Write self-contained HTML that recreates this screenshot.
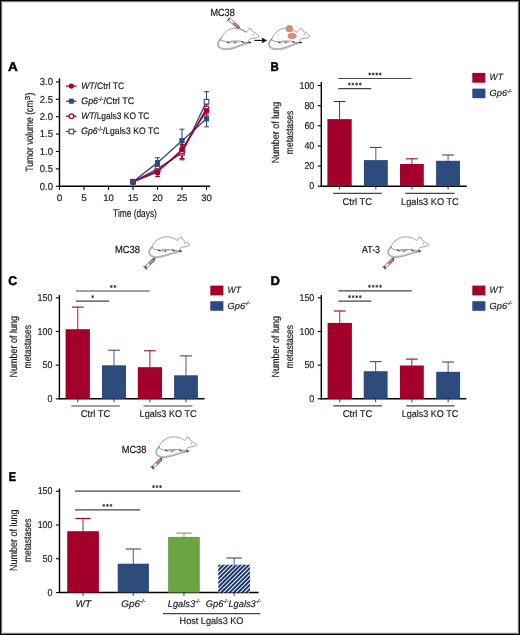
<!DOCTYPE html>
<html><head><meta charset="utf-8"><title>Figure</title>
<style>html,body{margin:0;padding:0;background:#fff;width:520px;height:635px;overflow:hidden}
svg{display:block;font-family:"Liberation Sans", sans-serif;will-change:transform;text-rendering:geometricPrecision}</style></head>
<body>
<svg width="520" height="635" viewBox="0 0 520 635" font-family='"Liberation Sans", sans-serif'>
<defs><pattern id="hatch" patternUnits="userSpaceOnUse" width="2.97" height="4" patternTransform="translate(218.3,564.7) rotate(45)"><rect width="2.97" height="4" fill="#fff"/><rect width="2.0" height="4" fill="#1B3470"/></pattern></defs>
<rect width="520" height="635" fill="#fff"/>
<text x="210.4" y="15.9" font-size="10.3" text-anchor="start" fill="#111" stroke="#111" stroke-width="0.18" textLength="24.4" lengthAdjust="spacingAndGlyphs" >MC38</text>
<g transform="translate(214,14)" fill="none" stroke-linecap="round" stroke-linejoin="round">
<path d="M6.4,25.5 C4.6,27 3.6,29.5 4.2,31.7 C5,33.8 8,35.2 12.6,35.2 C16,35.1 19.5,34.2 22.5,33 C26,31.7 30,30 33.9,29" stroke="#b4b4b4" stroke-width="2.0"/>
<path d="M6.4,25.5 C7.3,23.5 8.5,21.5 9.6,20.2 C11,18.4 13.5,16 17,14.7 C19.5,13.9 23,14.1 25.9,15.3 C28,16.1 30.5,17.2 32.3,18.3 C33.2,17.2 34,16 34.7,15.3 C35.2,14.6 35.8,14.3 36.3,14.5 C37,15 37.3,15.6 37.5,16.3 C38,16.9 38.3,17.2 38.6,17.4 C40.8,18.5 43.3,20.2 44.9,21.9 C44.5,22.7 44,23.1 43.3,23.4 C42,23.9 41,24.1 40,24.2 C38.5,24.4 37.3,24.7 36.5,25 C35.5,25.6 34.6,26.1 34.4,26.6 L36.1,28.6" stroke="#555" stroke-width="0.55" fill="#fff"/>
<path d="M6.8,26 C8,26.6 9.5,27.3 11.7,27.7 L14.4,28.4 C15.8,27.8 16.8,27.4 17.9,27.3 C20,27 22.5,26.8 24.5,27 L26.8,27.3 L28.5,28.1 L33,28.6 L36.1,28.6" stroke="#444" stroke-width="0.55"/>
<ellipse cx="20" cy="28.1" rx="3.6" ry="0.95" stroke="#888" stroke-width="0.5"/>
<path d="M13.4,27.8 L15.2,28.9 M27.7,27.6 L29.4,28.6 M34.8,28.2 L36.6,28.9 M20.7,28.6 L21.2,28.7" stroke="#111" stroke-width="1.0"/>
<circle cx="39.2" cy="20.6" r="0.5" fill="#444" stroke="none"/>
<path d="M24.0,13.0 L31.7,17.8" stroke="#555" stroke-width="0.5"/>
<path d="M15.6,5.6 L24.2,13.1" stroke="#333" stroke-width="3.0"/>
<path d="M18.9,8.4 L23.9,12.8" stroke="#DB8474" stroke-width="2.1"/>
<path d="M16.0,5.9 L18.7,8.2" stroke="#fff" stroke-width="2.1"/>
<path d="M13.2,7.0 L16.0,3.9" stroke="#222" stroke-width="0.9"/>
</g>
<line x1="254.4" y1="40.4" x2="262.5" y2="40.4" stroke="#000" stroke-width="1.1" />
<path d="M267.2,40.4 L261.5,37.6 L262.6,40.4 L261.5,43.2 Z" fill="#000"/>
<g transform="translate(265,14.0)" fill="none" stroke-linecap="round" stroke-linejoin="round">
<path d="M6.4,25.5 C4.6,27 3.6,29.5 4.2,31.7 C5,33.8 8,35.2 12.6,35.2 C16,35.1 19.5,34.2 22.5,33 C26,31.7 30,30 33.9,29" stroke="#b4b4b4" stroke-width="2.0"/>
<path d="M6.4,25.5 C7.3,23.5 8.5,21.5 9.6,20.2 C11,18.4 13.5,16 17,14.7 C19.5,13.9 23,14.1 25.9,15.3 C28,16.1 30.5,17.2 32.3,18.3 C33.2,17.2 34,16 34.7,15.3 C35.2,14.6 35.8,14.3 36.3,14.5 C37,15 37.3,15.6 37.5,16.3 C38,16.9 38.3,17.2 38.6,17.4 C40.8,18.5 43.3,20.2 44.9,21.9 C44.5,22.7 44,23.1 43.3,23.4 C42,23.9 41,24.1 40,24.2 C38.5,24.4 37.3,24.7 36.5,25 C35.5,25.6 34.6,26.1 34.4,26.6 L36.1,28.6" stroke="#555" stroke-width="0.55" fill="#fff"/>
<path d="M6.8,26 C8,26.6 9.5,27.3 11.7,27.7 L14.4,28.4 C15.8,27.8 16.8,27.4 17.9,27.3 C20,27 22.5,26.8 24.5,27 L26.8,27.3 L28.5,28.1 L33,28.6 L36.1,28.6" stroke="#444" stroke-width="0.55"/>
<ellipse cx="20" cy="28.1" rx="3.6" ry="0.95" stroke="#888" stroke-width="0.5"/>
<path d="M13.4,27.8 L15.2,28.9 M27.7,27.6 L29.4,28.6 M34.8,28.2 L36.6,28.9 M20.7,28.6 L21.2,28.7" stroke="#111" stroke-width="1.0"/>
<circle cx="39.2" cy="20.6" r="0.5" fill="#444" stroke="none"/>
<circle cx="24.4" cy="14.7" r="3.4" fill="#D58A7E" stroke="none"/>
<ellipse cx="27.1" cy="21.9" rx="4.4" ry="3.0" fill="#D58A7E" stroke="none"/>
<circle cx="24.4" cy="14.7" r="3.9" fill="#D58A7E" stroke="none" opacity="0.35"/>
<ellipse cx="27.1" cy="21.9" rx="4.9" ry="3.4" fill="#D58A7E" stroke="none" opacity="0.35"/>
</g>
<text x="8.1" y="71.3" font-size="12.6" text-anchor="start" fill="#000" stroke="#000" stroke-width="0.45" textLength="9.8" lengthAdjust="spacingAndGlyphs" font-weight="bold" >A</text>
<line x1="59.5" y1="78.3" x2="59.5" y2="187.0" stroke="#000" stroke-width="1.4" />
<line x1="58.8" y1="186.3" x2="210.2" y2="186.3" stroke="#000" stroke-width="1.4" />
<line x1="55.9" y1="186.3" x2="59.5" y2="186.3" stroke="#000" stroke-width="1.1" />
<text x="53.0" y="189.60000000000002" font-size="10.1" text-anchor="end" fill="#222" stroke="#222" stroke-width="0.18" textLength="13.2" lengthAdjust="spacingAndGlyphs" >0.0</text>
<line x1="55.9" y1="168.9" x2="59.5" y2="168.9" stroke="#000" stroke-width="1.1" />
<text x="53.0" y="172.20000000000002" font-size="10.1" text-anchor="end" fill="#222" stroke="#222" stroke-width="0.18" textLength="13.2" lengthAdjust="spacingAndGlyphs" >0.5</text>
<line x1="55.9" y1="151.5" x2="59.5" y2="151.5" stroke="#000" stroke-width="1.1" />
<text x="53.0" y="154.8" font-size="10.1" text-anchor="end" fill="#222" stroke="#222" stroke-width="0.18" textLength="13.2" lengthAdjust="spacingAndGlyphs" >1.0</text>
<line x1="55.9" y1="134.10000000000002" x2="59.5" y2="134.10000000000002" stroke="#000" stroke-width="1.1" />
<text x="53.0" y="137.40000000000003" font-size="10.1" text-anchor="end" fill="#222" stroke="#222" stroke-width="0.18" textLength="13.2" lengthAdjust="spacingAndGlyphs" >1.5</text>
<line x1="55.9" y1="116.70000000000002" x2="59.5" y2="116.70000000000002" stroke="#000" stroke-width="1.1" />
<text x="53.0" y="120.00000000000001" font-size="10.1" text-anchor="end" fill="#222" stroke="#222" stroke-width="0.18" textLength="13.2" lengthAdjust="spacingAndGlyphs" >2.0</text>
<line x1="55.9" y1="99.30000000000001" x2="59.5" y2="99.30000000000001" stroke="#000" stroke-width="1.1" />
<text x="53.0" y="102.60000000000001" font-size="10.1" text-anchor="end" fill="#222" stroke="#222" stroke-width="0.18" textLength="13.2" lengthAdjust="spacingAndGlyphs" >2.5</text>
<line x1="55.9" y1="81.90000000000002" x2="59.5" y2="81.90000000000002" stroke="#000" stroke-width="1.1" />
<text x="53.0" y="85.20000000000002" font-size="10.1" text-anchor="end" fill="#222" stroke="#222" stroke-width="0.18" textLength="13.2" lengthAdjust="spacingAndGlyphs" >3.0</text>
<line x1="59.5" y1="186.3" x2="59.5" y2="189.9" stroke="#000" stroke-width="1.1" />
<text x="59.5" y="201.4" font-size="9.4" text-anchor="middle" fill="#222" stroke="#222" stroke-width="0.18" textLength="5.6" lengthAdjust="spacingAndGlyphs" >0</text>
<line x1="84.0" y1="186.3" x2="84.0" y2="189.9" stroke="#000" stroke-width="1.1" />
<text x="84.0" y="201.4" font-size="9.4" text-anchor="middle" fill="#222" stroke="#222" stroke-width="0.18" textLength="5.6" lengthAdjust="spacingAndGlyphs" >5</text>
<line x1="108.5" y1="186.3" x2="108.5" y2="189.9" stroke="#000" stroke-width="1.1" />
<text x="108.5" y="201.4" font-size="9.4" text-anchor="middle" fill="#222" stroke="#222" stroke-width="0.18" textLength="10.6" lengthAdjust="spacingAndGlyphs" >10</text>
<line x1="133.0" y1="186.3" x2="133.0" y2="189.9" stroke="#000" stroke-width="1.1" />
<text x="133.0" y="201.4" font-size="9.4" text-anchor="middle" fill="#222" stroke="#222" stroke-width="0.18" textLength="10.6" lengthAdjust="spacingAndGlyphs" >15</text>
<line x1="157.5" y1="186.3" x2="157.5" y2="189.9" stroke="#000" stroke-width="1.1" />
<text x="157.5" y="201.4" font-size="9.4" text-anchor="middle" fill="#222" stroke="#222" stroke-width="0.18" textLength="10.6" lengthAdjust="spacingAndGlyphs" >20</text>
<line x1="182.0" y1="186.3" x2="182.0" y2="189.9" stroke="#000" stroke-width="1.1" />
<text x="182.0" y="201.4" font-size="9.4" text-anchor="middle" fill="#222" stroke="#222" stroke-width="0.18" textLength="10.6" lengthAdjust="spacingAndGlyphs" >25</text>
<line x1="206.5" y1="186.3" x2="206.5" y2="189.9" stroke="#000" stroke-width="1.1" />
<text x="206.5" y="201.4" font-size="9.4" text-anchor="middle" fill="#222" stroke="#222" stroke-width="0.18" textLength="10.6" lengthAdjust="spacingAndGlyphs" >30</text>
<g transform="translate(33.1,171.8) rotate(-90)" stroke="#222" stroke-width="0.18">
<text x="0" y="0" font-size="10.6" fill="#222" textLength="71.4" lengthAdjust="spacingAndGlyphs">Tumor volume (cm</text>
<text x="71.6" y="-3.6" font-size="7.2" fill="#222" textLength="4.4" lengthAdjust="spacingAndGlyphs">3</text>
<text x="76.0" y="0" font-size="10.6" fill="#222" textLength="3.4" lengthAdjust="spacingAndGlyphs">)</text>
</g>
<text x="135" y="216.5" font-size="11" text-anchor="middle" fill="#222" stroke="#222" stroke-width="0.18" textLength="43.8" lengthAdjust="spacingAndGlyphs" >Time (days)</text>
<line x1="133.0" y1="182.82000000000002" x2="133.0" y2="180.732" stroke="#2E4B7D" stroke-width="1.1" />
<line x1="130.6" y1="180.732" x2="135.4" y2="180.732" stroke="#2E4B7D" stroke-width="1.1" />
<line x1="130.6" y1="182.82000000000002" x2="135.4" y2="182.82000000000002" stroke="#2E4B7D" stroke-width="1.1" />
<line x1="157.5" y1="172.38000000000002" x2="157.5" y2="165.42000000000002" stroke="#2E4B7D" stroke-width="1.1" />
<line x1="155.1" y1="165.42000000000002" x2="159.9" y2="165.42000000000002" stroke="#2E4B7D" stroke-width="1.1" />
<line x1="155.1" y1="172.38000000000002" x2="159.9" y2="172.38000000000002" stroke="#2E4B7D" stroke-width="1.1" />
<line x1="182.0" y1="159.852" x2="182.0" y2="145.93200000000002" stroke="#2E4B7D" stroke-width="1.1" />
<line x1="179.6" y1="145.93200000000002" x2="184.4" y2="145.93200000000002" stroke="#2E4B7D" stroke-width="1.1" />
<line x1="179.6" y1="159.852" x2="184.4" y2="159.852" stroke="#2E4B7D" stroke-width="1.1" />
<line x1="206.5" y1="111.82800000000002" x2="206.5" y2="91.644" stroke="#2E4B7D" stroke-width="1.1" />
<line x1="204.1" y1="91.644" x2="208.9" y2="91.644" stroke="#2E4B7D" stroke-width="1.1" />
<line x1="204.1" y1="111.82800000000002" x2="208.9" y2="111.82800000000002" stroke="#2E4B7D" stroke-width="1.1" />
<line x1="133.0" y1="182.82000000000002" x2="133.0" y2="180.732" stroke="#A3002B" stroke-width="1.1" />
<line x1="130.6" y1="180.732" x2="135.4" y2="180.732" stroke="#A3002B" stroke-width="1.1" />
<line x1="130.6" y1="182.82000000000002" x2="135.4" y2="182.82000000000002" stroke="#A3002B" stroke-width="1.1" />
<line x1="157.5" y1="174.46800000000002" x2="157.5" y2="167.508" stroke="#A3002B" stroke-width="1.1" />
<line x1="155.1" y1="167.508" x2="159.9" y2="167.508" stroke="#A3002B" stroke-width="1.1" />
<line x1="155.1" y1="174.46800000000002" x2="159.9" y2="174.46800000000002" stroke="#A3002B" stroke-width="1.1" />
<line x1="182.0" y1="158.46" x2="182.0" y2="144.54000000000002" stroke="#A3002B" stroke-width="1.1" />
<line x1="179.6" y1="144.54000000000002" x2="184.4" y2="144.54000000000002" stroke="#A3002B" stroke-width="1.1" />
<line x1="179.6" y1="158.46" x2="184.4" y2="158.46" stroke="#A3002B" stroke-width="1.1" />
<line x1="206.5" y1="112.52400000000002" x2="206.5" y2="104.17200000000001" stroke="#A3002B" stroke-width="1.1" />
<line x1="204.1" y1="104.17200000000001" x2="208.9" y2="104.17200000000001" stroke="#A3002B" stroke-width="1.1" />
<line x1="204.1" y1="112.52400000000002" x2="208.9" y2="112.52400000000002" stroke="#A3002B" stroke-width="1.1" />
<line x1="133.0" y1="182.82000000000002" x2="133.0" y2="180.732" stroke="#2E4B7D" stroke-width="1.1" />
<line x1="130.6" y1="180.732" x2="135.4" y2="180.732" stroke="#2E4B7D" stroke-width="1.1" />
<line x1="130.6" y1="182.82000000000002" x2="135.4" y2="182.82000000000002" stroke="#2E4B7D" stroke-width="1.1" />
<line x1="157.5" y1="167.508" x2="157.5" y2="157.764" stroke="#2E4B7D" stroke-width="1.1" />
<line x1="155.1" y1="157.764" x2="159.9" y2="157.764" stroke="#2E4B7D" stroke-width="1.1" />
<line x1="155.1" y1="167.508" x2="159.9" y2="167.508" stroke="#2E4B7D" stroke-width="1.1" />
<line x1="182.0" y1="152.19600000000003" x2="182.0" y2="129.228" stroke="#2E4B7D" stroke-width="1.1" />
<line x1="179.6" y1="129.228" x2="184.4" y2="129.228" stroke="#2E4B7D" stroke-width="1.1" />
<line x1="179.6" y1="152.19600000000003" x2="184.4" y2="152.19600000000003" stroke="#2E4B7D" stroke-width="1.1" />
<line x1="206.5" y1="126.79200000000002" x2="206.5" y2="110.78400000000002" stroke="#2E4B7D" stroke-width="1.1" />
<line x1="204.1" y1="110.78400000000002" x2="208.9" y2="110.78400000000002" stroke="#2E4B7D" stroke-width="1.1" />
<line x1="204.1" y1="126.79200000000002" x2="208.9" y2="126.79200000000002" stroke="#2E4B7D" stroke-width="1.1" />
<line x1="133.0" y1="182.82000000000002" x2="133.0" y2="180.732" stroke="#A3002B" stroke-width="1.1" />
<line x1="130.6" y1="180.732" x2="135.4" y2="180.732" stroke="#A3002B" stroke-width="1.1" />
<line x1="130.6" y1="182.82000000000002" x2="135.4" y2="182.82000000000002" stroke="#A3002B" stroke-width="1.1" />
<line x1="157.5" y1="176.556" x2="157.5" y2="167.508" stroke="#A3002B" stroke-width="1.1" />
<line x1="155.1" y1="167.508" x2="159.9" y2="167.508" stroke="#A3002B" stroke-width="1.1" />
<line x1="155.1" y1="176.556" x2="159.9" y2="176.556" stroke="#A3002B" stroke-width="1.1" />
<line x1="182.0" y1="158.80800000000002" x2="182.0" y2="140.01600000000002" stroke="#A3002B" stroke-width="1.1" />
<line x1="179.6" y1="140.01600000000002" x2="184.4" y2="140.01600000000002" stroke="#A3002B" stroke-width="1.1" />
<line x1="179.6" y1="158.80800000000002" x2="184.4" y2="158.80800000000002" stroke="#A3002B" stroke-width="1.1" />
<line x1="206.5" y1="114.96000000000002" x2="206.5" y2="106.60800000000002" stroke="#A3002B" stroke-width="1.1" />
<line x1="204.1" y1="106.60800000000002" x2="208.9" y2="106.60800000000002" stroke="#A3002B" stroke-width="1.1" />
<line x1="204.1" y1="114.96000000000002" x2="208.9" y2="114.96000000000002" stroke="#A3002B" stroke-width="1.1" />
<polyline points="133.00,181.78 157.50,168.90 182.00,152.89 206.50,101.74" fill="none" stroke="#2E4B7D" stroke-width="1.35"/>
<polyline points="133.00,181.78 157.50,170.99 182.00,151.50 206.50,108.35" fill="none" stroke="#A3002B" stroke-width="1.35"/>
<polyline points="133.00,181.78 157.50,162.64 182.00,140.71 206.50,118.79" fill="none" stroke="#2E4B7D" stroke-width="1.35"/>
<polyline points="133.00,181.78 157.50,172.03 182.00,149.41 206.50,110.78" fill="none" stroke="#A3002B" stroke-width="1.35"/>
<rect x="130.70" y="179.48" width="4.6" height="4.6" fill="#fff" stroke="#2E4B7D" stroke-width="1.1"/>
<rect x="155.20" y="166.60" width="4.6" height="4.6" fill="#fff" stroke="#2E4B7D" stroke-width="1.1"/>
<rect x="179.70" y="150.59" width="4.6" height="4.6" fill="#fff" stroke="#2E4B7D" stroke-width="1.1"/>
<rect x="204.20" y="99.44" width="4.6" height="4.6" fill="#fff" stroke="#2E4B7D" stroke-width="1.1"/>
<circle cx="133.00" cy="181.78" r="2.4" fill="#fff" stroke="#A3002B" stroke-width="1.1"/>
<circle cx="157.50" cy="170.99" r="2.4" fill="#fff" stroke="#A3002B" stroke-width="1.1"/>
<circle cx="182.00" cy="151.50" r="2.4" fill="#fff" stroke="#A3002B" stroke-width="1.1"/>
<circle cx="206.50" cy="108.35" r="2.4" fill="#fff" stroke="#A3002B" stroke-width="1.1"/>
<circle cx="133.00" cy="181.78" r="2.8" fill="#A3002B"/>
<circle cx="157.50" cy="172.03" r="2.8" fill="#A3002B"/>
<circle cx="182.00" cy="149.41" r="2.8" fill="#A3002B"/>
<circle cx="206.50" cy="110.78" r="2.8" fill="#A3002B"/>
<rect x="130.40" y="179.18" width="5.2" height="5.2" fill="#2E4B7D"/>
<rect x="154.90" y="160.04" width="5.2" height="5.2" fill="#2E4B7D"/>
<rect x="179.40" y="138.11" width="5.2" height="5.2" fill="#2E4B7D"/>
<rect x="203.90" y="116.19" width="5.2" height="5.2" fill="#2E4B7D"/>
<line x1="66" y1="86.1" x2="76.5" y2="86.1" stroke="#A3002B" stroke-width="1.3" />
<circle cx="71.4" cy="86.1" r="2.6" fill="#A3002B"/>
<line x1="66" y1="101.2" x2="76.5" y2="101.2" stroke="#2E4B7D" stroke-width="1.3" />
<rect x="68.9" y="98.7" width="5" height="5" fill="#2E4B7D"/>
<line x1="66" y1="116.2" x2="76.5" y2="116.2" stroke="#A3002B" stroke-width="1.3" />
<circle cx="71.4" cy="116.2" r="2.3" fill="#fff" stroke="#A3002B" stroke-width="1.1"/>
<line x1="66" y1="131.5" x2="76.5" y2="131.5" stroke="#2E4B7D" stroke-width="1.3" />
<rect x="69.10000000000001" y="129.2" width="4.6" height="4.6" fill="#fff" stroke="#2E4B7D" stroke-width="1.1"/>
<text x="81.2" y="88.8" font-size="9.4" text-anchor="start" fill="#1a1a1a" stroke="#1a1a1a" stroke-width="0.18" textLength="43" lengthAdjust="spacingAndGlyphs" ><tspan font-style="italic">WT</tspan>/Ctrl TC</text>
<text x="81.2" y="103.9" font-size="9.4" text-anchor="start" fill="#1a1a1a" stroke="#1a1a1a" stroke-width="0.18" textLength="52.9" lengthAdjust="spacingAndGlyphs" ><tspan font-style="italic">Gp6</tspan><tspan font-size="6" dy="-3.3">-/-</tspan><tspan dy="3.3">/Ctrl TC</tspan></text>
<text x="81.2" y="118.9" font-size="9.4" text-anchor="start" fill="#1a1a1a" stroke="#1a1a1a" stroke-width="0.18" textLength="68.2" lengthAdjust="spacingAndGlyphs" ><tspan font-style="italic">WT</tspan>/Lgals3 KO TC</text>
<text x="81.2" y="134.2" font-size="9.4" text-anchor="start" fill="#1a1a1a" stroke="#1a1a1a" stroke-width="0.18" textLength="78.3" lengthAdjust="spacingAndGlyphs" ><tspan font-style="italic">Gp6</tspan><tspan font-size="6" dy="-3.3">-/-</tspan><tspan dy="3.3">/Lgals3 KO TC</tspan></text>
<text x="270.6" y="71.3" font-size="12.6" text-anchor="start" fill="#000" stroke="#000" stroke-width="0.45" textLength="8.3" lengthAdjust="spacingAndGlyphs" font-weight="bold" >B</text>
<line x1="321.3" y1="82.0" x2="321.3" y2="186.79999999999998" stroke="#000" stroke-width="1.4" />
<line x1="320.6" y1="186.2" x2="466.8" y2="186.2" stroke="#000" stroke-width="1.4" />
<line x1="317.7" y1="186.2" x2="321.3" y2="186.2" stroke="#000" stroke-width="1.1" />
<text x="314.3" y="189.39999999999998" font-size="9.9" text-anchor="end" fill="#222" stroke="#222" stroke-width="0.18" textLength="4.95" lengthAdjust="spacingAndGlyphs" >0</text>
<line x1="317.7" y1="166.07999999999998" x2="321.3" y2="166.07999999999998" stroke="#000" stroke-width="1.1" />
<text x="314.3" y="169.27999999999997" font-size="9.9" text-anchor="end" fill="#222" stroke="#222" stroke-width="0.18" textLength="9.9" lengthAdjust="spacingAndGlyphs" >20</text>
<line x1="317.7" y1="145.95999999999998" x2="321.3" y2="145.95999999999998" stroke="#000" stroke-width="1.1" />
<text x="314.3" y="149.15999999999997" font-size="9.9" text-anchor="end" fill="#222" stroke="#222" stroke-width="0.18" textLength="9.9" lengthAdjust="spacingAndGlyphs" >40</text>
<line x1="317.7" y1="125.83999999999999" x2="321.3" y2="125.83999999999999" stroke="#000" stroke-width="1.1" />
<text x="314.3" y="129.04" font-size="9.9" text-anchor="end" fill="#222" stroke="#222" stroke-width="0.18" textLength="9.9" lengthAdjust="spacingAndGlyphs" >60</text>
<line x1="317.7" y1="105.71999999999998" x2="321.3" y2="105.71999999999998" stroke="#000" stroke-width="1.1" />
<text x="314.3" y="108.91999999999999" font-size="9.9" text-anchor="end" fill="#222" stroke="#222" stroke-width="0.18" textLength="9.9" lengthAdjust="spacingAndGlyphs" >80</text>
<line x1="317.7" y1="85.6" x2="321.3" y2="85.6" stroke="#000" stroke-width="1.1" />
<text x="314.3" y="88.8" font-size="9.9" text-anchor="end" fill="#222" stroke="#222" stroke-width="0.18" textLength="14.850000000000001" lengthAdjust="spacingAndGlyphs" >100</text>
<line x1="339.54999999999995" y1="101.5" x2="339.54999999999995" y2="119.6" stroke="#A3002B" stroke-width="0.9" />
<line x1="333.65" y1="101.5" x2="345.44999999999993" y2="101.5" stroke="#A3002B" stroke-width="1.1" />
<rect x="327.40" y="119.10" width="24.30" height="67.10" fill="#A3002B"/>
<line x1="339.54999999999995" y1="186.2" x2="339.54999999999995" y2="189.6" stroke="#222" stroke-width="0.9" />
<line x1="375.85" y1="147.4" x2="375.85" y2="160.6" stroke="#2E4B7D" stroke-width="0.9" />
<line x1="369.95000000000005" y1="147.4" x2="381.75" y2="147.4" stroke="#2E4B7D" stroke-width="1.1" />
<rect x="363.90" y="160.10" width="23.90" height="26.10" fill="#2E4B7D"/>
<line x1="375.85" y1="186.2" x2="375.85" y2="189.6" stroke="#222" stroke-width="0.9" />
<line x1="411.9" y1="158.8" x2="411.9" y2="164.5" stroke="#A3002B" stroke-width="0.9" />
<line x1="406.0" y1="158.8" x2="417.79999999999995" y2="158.8" stroke="#A3002B" stroke-width="1.1" />
<rect x="400.00" y="164.00" width="23.80" height="22.20" fill="#A3002B"/>
<line x1="411.9" y1="186.2" x2="411.9" y2="189.6" stroke="#222" stroke-width="0.9" />
<line x1="448.05" y1="155.0" x2="448.05" y2="161.3" stroke="#2E4B7D" stroke-width="0.9" />
<line x1="442.15000000000003" y1="155.0" x2="453.95" y2="155.0" stroke="#2E4B7D" stroke-width="1.1" />
<rect x="436.10" y="160.80" width="23.90" height="25.40" fill="#2E4B7D"/>
<line x1="448.05" y1="186.2" x2="448.05" y2="189.6" stroke="#222" stroke-width="0.9" />
<line x1="333.1" y1="193.3" x2="381.8" y2="193.3" stroke="#444" stroke-width="1.2" />
<line x1="405.4" y1="193.3" x2="454.6" y2="193.3" stroke="#444" stroke-width="1.2" />
<line x1="338.3" y1="78.5" x2="411.7" y2="78.5" stroke="#444" stroke-width="1.2" />
<path d="M369.70,72.55L369.70,75.45M370.96,73.28L368.44,74.72M370.96,74.72L368.44,73.28" stroke="#2a2a2a" stroke-width="0.85" fill="none"/>
<path d="M373.20,72.55L373.20,75.45M374.46,73.28L371.94,74.72M374.46,74.72L371.94,73.28" stroke="#2a2a2a" stroke-width="0.85" fill="none"/>
<path d="M376.70,72.55L376.70,75.45M377.96,73.28L375.44,74.72M377.96,74.72L375.44,73.28" stroke="#2a2a2a" stroke-width="0.85" fill="none"/>
<path d="M380.20,72.55L380.20,75.45M381.46,73.28L378.94,74.72M381.46,74.72L378.94,73.28" stroke="#2a2a2a" stroke-width="0.85" fill="none"/>
<line x1="338.3" y1="88.6" x2="371.2" y2="88.6" stroke="#444" stroke-width="1.2" />
<path d="M349.30,82.65L349.30,85.55M350.56,83.38L348.04,84.82M350.56,84.82L348.04,83.38" stroke="#2a2a2a" stroke-width="0.85" fill="none"/>
<path d="M352.97,82.65L352.97,85.55M354.22,83.38L351.71,84.82M354.22,84.82L351.71,83.38" stroke="#2a2a2a" stroke-width="0.85" fill="none"/>
<path d="M356.63,82.65L356.63,85.55M357.89,83.38L355.38,84.82M357.89,84.82L355.38,83.38" stroke="#2a2a2a" stroke-width="0.85" fill="none"/>
<path d="M360.30,82.65L360.30,85.55M361.56,83.38L359.04,84.82M361.56,84.82L359.04,83.38" stroke="#2a2a2a" stroke-width="0.85" fill="none"/>
<text x="279.3" y="132.4" font-size="10.4" text-anchor="middle" fill="#222" stroke="#222" stroke-width="0.18" textLength="61.5" lengthAdjust="spacingAndGlyphs" transform="rotate(-90 279.3 132.4)" >Number of lung</text>
<text x="292.90000000000003" y="132.4" font-size="10.4" text-anchor="middle" fill="#222" stroke="#222" stroke-width="0.18" textLength="43.5" lengthAdjust="spacingAndGlyphs" transform="rotate(-90 292.90000000000003 132.4)" >metastases</text>
<text x="357.3" y="205.0" font-size="9.8" text-anchor="middle" fill="#222" stroke="#222" stroke-width="0.18" textLength="29.6" lengthAdjust="spacingAndGlyphs" >Ctrl TC</text>
<text x="429.9" y="205.0" font-size="9.8" text-anchor="middle" fill="#222" stroke="#222" stroke-width="0.18" textLength="57.6" lengthAdjust="spacingAndGlyphs" >Lgals3 KO TC</text>
<rect x="472.3" y="72.9" width="13.1" height="9.8" fill="#A3002B"/>
<rect x="472.3" y="88.6" width="13.1" height="9.6" fill="#2E4B7D"/>
<text x="489.6" y="80.30000000000001" font-size="9.0" text-anchor="start" fill="#222" stroke="#222" stroke-width="0.18" textLength="13.3" lengthAdjust="spacingAndGlyphs" font-style="italic" >WT</text>
<text x="489.6" y="96.1" font-size="9.0" text-anchor="start" fill="#222" stroke="#222" stroke-width="0.18" textLength="22.6" lengthAdjust="spacingAndGlyphs" font-style="italic" >Gp6<tspan font-size="5.3" dy="-3.4">-/-</tspan></text>
<text x="114.9" y="252.5" font-size="10.3" text-anchor="start" fill="#111" stroke="#111" stroke-width="0.18" textLength="25.2" lengthAdjust="spacingAndGlyphs" >MC38</text>
<g transform="translate(141,230)" fill="none" stroke-linecap="round" stroke-linejoin="round">
<path d="M10.9,17.3 C8.6,19 7.6,22 8.6,24 C10,26.4 13,27.3 16,27.2 C20,27 25,25.3 30,23.9 C33.5,22.9 37,22 39.8,21.3" stroke="#b4b4b4" stroke-width="2.0"/>
<path d="M10.9,17.3 C11.8,14.5 13,12.5 15,10.8 C17,9.2 20.5,7.3 24,6.9 C27.5,6.6 31,7.3 33.5,8.6 C34.8,9.3 35.8,10 36.4,10.6 C37.2,9.4 38,8.2 38.7,7.9 C39.3,7.2 40.2,7.1 40.7,7.5 C41.3,8 41.6,8.6 41.8,9.2 C42.5,10 43,10.6 43.4,11.2 C45.5,12.2 47.5,13.3 48.9,14.6 C48.4,15.4 47.8,15.8 46.8,16.1 C45,16.6 43,16.9 41,17.3 C39.8,17.8 38.8,18.6 38.7,19.2 L40.1,21" stroke="#555" stroke-width="0.55" fill="#fff"/>
<path d="M11.3,17.7 C12.3,18.6 13.2,19.3 14.2,19.6 L18.4,20.4 C20,20.1 21,19.9 22,19.8 C25,19.5 28,19.4 30.8,19.8 L36,20.8 L39.6,21" stroke="#444" stroke-width="0.55"/>
<ellipse cx="23.7" cy="20.6" rx="3.6" ry="0.9" stroke="#888" stroke-width="0.5"/>
<path d="M17.4,19.8 L19.2,20.9 M31.6,19.9 L33.3,20.9 M38.6,20.6 L40.2,21.3 M24.1,21 L24.6,21.1" stroke="#111" stroke-width="1.0"/>
<circle cx="43.6" cy="13.3" r="0.5" fill="#444" stroke="none"/>
<path d="M39.6,8.6 C40.2,8.4 40.8,8.8 40.9,9.4" stroke="#999" stroke-width="0.4"/>
<path d="M14.4,27.3 L12.9,29.3" stroke="#555" stroke-width="0.5"/>
<path d="M12.7,29.6 L5.4,36.8" stroke="#333" stroke-width="3.0"/>
<path d="M12.3,30.0 L8.0,34.3" stroke="#DB8474" stroke-width="2.1"/>
<path d="M7.8,34.5 L5.8,36.4" stroke="#fff" stroke-width="2.1"/>
<path d="M2.8,36.2 L5.6,39.3" stroke="#222" stroke-width="0.9"/>
<path d="M4.2,37.8 L5.4,36.7" stroke="#333" stroke-width="0.6"/>
</g>
<text x="8.2" y="285.3" font-size="12.6" text-anchor="start" fill="#000" stroke="#000" stroke-width="0.45" textLength="8.9" lengthAdjust="spacingAndGlyphs" font-weight="bold" >C</text>
<line x1="59.4" y1="295.0" x2="59.4" y2="399.40000000000003" stroke="#000" stroke-width="1.4" />
<line x1="58.699999999999996" y1="398.8" x2="204.6" y2="398.8" stroke="#000" stroke-width="1.4" />
<line x1="55.8" y1="398.8" x2="59.4" y2="398.8" stroke="#000" stroke-width="1.1" />
<text x="52.4" y="402.0" font-size="9.9" text-anchor="end" fill="#222" stroke="#222" stroke-width="0.18" textLength="4.95" lengthAdjust="spacingAndGlyphs" >0</text>
<line x1="55.8" y1="365.135" x2="59.4" y2="365.135" stroke="#000" stroke-width="1.1" />
<text x="52.4" y="368.335" font-size="9.9" text-anchor="end" fill="#222" stroke="#222" stroke-width="0.18" textLength="9.9" lengthAdjust="spacingAndGlyphs" >50</text>
<line x1="55.8" y1="331.47" x2="59.4" y2="331.47" stroke="#000" stroke-width="1.1" />
<text x="52.4" y="334.67" font-size="9.9" text-anchor="end" fill="#222" stroke="#222" stroke-width="0.18" textLength="14.850000000000001" lengthAdjust="spacingAndGlyphs" >100</text>
<line x1="55.8" y1="297.805" x2="59.4" y2="297.805" stroke="#000" stroke-width="1.1" />
<text x="52.4" y="301.005" font-size="9.9" text-anchor="end" fill="#222" stroke="#222" stroke-width="0.18" textLength="14.850000000000001" lengthAdjust="spacingAndGlyphs" >150</text>
<line x1="77.75" y1="307.1" x2="77.75" y2="329.7" stroke="#A3002B" stroke-width="0.9" />
<line x1="71.85" y1="307.1" x2="83.65" y2="307.1" stroke="#A3002B" stroke-width="1.1" />
<rect x="65.60" y="329.20" width="24.30" height="69.60" fill="#A3002B"/>
<line x1="77.75" y1="398.8" x2="77.75" y2="402.2" stroke="#222" stroke-width="0.9" />
<line x1="114.0" y1="350.2" x2="114.0" y2="365.8" stroke="#2E4B7D" stroke-width="0.9" />
<line x1="108.1" y1="350.2" x2="119.9" y2="350.2" stroke="#2E4B7D" stroke-width="1.1" />
<rect x="102.00" y="365.30" width="24.00" height="33.50" fill="#2E4B7D"/>
<line x1="114.0" y1="398.8" x2="114.0" y2="402.2" stroke="#222" stroke-width="0.9" />
<line x1="149.9" y1="350.8" x2="149.9" y2="367.7" stroke="#A3002B" stroke-width="0.9" />
<line x1="144.0" y1="350.8" x2="155.8" y2="350.8" stroke="#A3002B" stroke-width="1.1" />
<rect x="137.80" y="367.20" width="24.20" height="31.60" fill="#A3002B"/>
<line x1="149.9" y1="398.8" x2="149.9" y2="402.2" stroke="#222" stroke-width="0.9" />
<line x1="186.0" y1="355.9" x2="186.0" y2="375.8" stroke="#2E4B7D" stroke-width="0.9" />
<line x1="180.1" y1="355.9" x2="191.9" y2="355.9" stroke="#2E4B7D" stroke-width="1.1" />
<rect x="174.10" y="375.30" width="23.80" height="23.50" fill="#2E4B7D"/>
<line x1="186.0" y1="398.8" x2="186.0" y2="402.2" stroke="#222" stroke-width="0.9" />
<line x1="71.3" y1="406.0" x2="119.8" y2="406.0" stroke="#444" stroke-width="1.2" />
<line x1="143.4" y1="406.0" x2="192.5" y2="406.0" stroke="#444" stroke-width="1.2" />
<line x1="76" y1="291.0" x2="149.8" y2="291.0" stroke="#444" stroke-width="1.2" />
<path d="M111.30,285.05L111.30,287.95M112.56,285.77L110.04,287.23M112.56,287.23L110.04,285.77" stroke="#2a2a2a" stroke-width="0.85" fill="none"/>
<path d="M114.90,285.05L114.90,287.95M116.16,285.77L113.64,287.23M116.16,287.23L113.64,285.77" stroke="#2a2a2a" stroke-width="0.85" fill="none"/>
<line x1="76" y1="301.2" x2="109.2" y2="301.2" stroke="#444" stroke-width="1.2" />
<path d="M92.70,295.25L92.70,298.15M93.96,295.97L91.44,297.43M93.96,297.43L91.44,295.97" stroke="#2a2a2a" stroke-width="0.85" fill="none"/>
<text x="17.3" y="346.7" font-size="10.4" text-anchor="middle" fill="#222" stroke="#222" stroke-width="0.18" textLength="61.5" lengthAdjust="spacingAndGlyphs" transform="rotate(-90 17.3 346.7)" >Number of lung</text>
<text x="30.9" y="346.7" font-size="10.4" text-anchor="middle" fill="#222" stroke="#222" stroke-width="0.18" textLength="43.5" lengthAdjust="spacingAndGlyphs" transform="rotate(-90 30.9 346.7)" >metastases</text>
<text x="95.6" y="417.0" font-size="9.8" text-anchor="middle" fill="#222" stroke="#222" stroke-width="0.18" textLength="29.6" lengthAdjust="spacingAndGlyphs" >Ctrl TC</text>
<text x="168.1" y="417.0" font-size="9.8" text-anchor="middle" fill="#222" stroke="#222" stroke-width="0.18" textLength="57.0" lengthAdjust="spacingAndGlyphs" >Lgals3 KO TC</text>
<rect x="210.3" y="285.6" width="13.1" height="9.8" fill="#A3002B"/>
<rect x="210.3" y="301.2" width="13.1" height="9.6" fill="#2E4B7D"/>
<text x="227.60000000000002" y="293.0" font-size="9.0" text-anchor="start" fill="#222" stroke="#222" stroke-width="0.18" textLength="13.3" lengthAdjust="spacingAndGlyphs" font-style="italic" >WT</text>
<text x="227.60000000000002" y="308.7" font-size="9.0" text-anchor="start" fill="#222" stroke="#222" stroke-width="0.18" textLength="22.6" lengthAdjust="spacingAndGlyphs" font-style="italic" >Gp6<tspan font-size="5.3" dy="-3.4">-/-</tspan></text>
<text x="362.0" y="252.5" font-size="10.2" text-anchor="start" fill="#111" stroke="#111" stroke-width="0.18" textLength="18.0" lengthAdjust="spacingAndGlyphs" >AT-3</text>
<g transform="translate(380,230)" fill="none" stroke-linecap="round" stroke-linejoin="round">
<path d="M10.9,17.3 C8.6,19 7.6,22 8.6,24 C10,26.4 13,27.3 16,27.2 C20,27 25,25.3 30,23.9 C33.5,22.9 37,22 39.8,21.3" stroke="#b4b4b4" stroke-width="2.0"/>
<path d="M10.9,17.3 C11.8,14.5 13,12.5 15,10.8 C17,9.2 20.5,7.3 24,6.9 C27.5,6.6 31,7.3 33.5,8.6 C34.8,9.3 35.8,10 36.4,10.6 C37.2,9.4 38,8.2 38.7,7.9 C39.3,7.2 40.2,7.1 40.7,7.5 C41.3,8 41.6,8.6 41.8,9.2 C42.5,10 43,10.6 43.4,11.2 C45.5,12.2 47.5,13.3 48.9,14.6 C48.4,15.4 47.8,15.8 46.8,16.1 C45,16.6 43,16.9 41,17.3 C39.8,17.8 38.8,18.6 38.7,19.2 L40.1,21" stroke="#555" stroke-width="0.55" fill="#fff"/>
<path d="M11.3,17.7 C12.3,18.6 13.2,19.3 14.2,19.6 L18.4,20.4 C20,20.1 21,19.9 22,19.8 C25,19.5 28,19.4 30.8,19.8 L36,20.8 L39.6,21" stroke="#444" stroke-width="0.55"/>
<ellipse cx="23.7" cy="20.6" rx="3.6" ry="0.9" stroke="#888" stroke-width="0.5"/>
<path d="M17.4,19.8 L19.2,20.9 M31.6,19.9 L33.3,20.9 M38.6,20.6 L40.2,21.3 M24.1,21 L24.6,21.1" stroke="#111" stroke-width="1.0"/>
<circle cx="43.6" cy="13.3" r="0.5" fill="#444" stroke="none"/>
<path d="M39.6,8.6 C40.2,8.4 40.8,8.8 40.9,9.4" stroke="#999" stroke-width="0.4"/>
<path d="M14.4,27.3 L12.9,29.3" stroke="#555" stroke-width="0.5"/>
<path d="M12.7,29.6 L5.4,36.8" stroke="#333" stroke-width="3.0"/>
<path d="M12.3,30.0 L8.0,34.3" stroke="#DB8474" stroke-width="2.1"/>
<path d="M7.8,34.5 L5.8,36.4" stroke="#fff" stroke-width="2.1"/>
<path d="M2.8,36.2 L5.6,39.3" stroke="#222" stroke-width="0.9"/>
<path d="M4.2,37.8 L5.4,36.7" stroke="#333" stroke-width="0.6"/>
</g>
<text x="270.4" y="285.3" font-size="12.6" text-anchor="start" fill="#000" stroke="#000" stroke-width="0.45" textLength="9.4" lengthAdjust="spacingAndGlyphs" font-weight="bold" >D</text>
<line x1="321.3" y1="295.0" x2="321.3" y2="399.40000000000003" stroke="#000" stroke-width="1.4" />
<line x1="320.6" y1="398.8" x2="466.3" y2="398.8" stroke="#000" stroke-width="1.4" />
<line x1="317.7" y1="398.8" x2="321.3" y2="398.8" stroke="#000" stroke-width="1.1" />
<text x="314.3" y="402.0" font-size="9.9" text-anchor="end" fill="#222" stroke="#222" stroke-width="0.18" textLength="4.95" lengthAdjust="spacingAndGlyphs" >0</text>
<line x1="317.7" y1="365.135" x2="321.3" y2="365.135" stroke="#000" stroke-width="1.1" />
<text x="314.3" y="368.335" font-size="9.9" text-anchor="end" fill="#222" stroke="#222" stroke-width="0.18" textLength="9.9" lengthAdjust="spacingAndGlyphs" >50</text>
<line x1="317.7" y1="331.47" x2="321.3" y2="331.47" stroke="#000" stroke-width="1.1" />
<text x="314.3" y="334.67" font-size="9.9" text-anchor="end" fill="#222" stroke="#222" stroke-width="0.18" textLength="14.850000000000001" lengthAdjust="spacingAndGlyphs" >100</text>
<line x1="317.7" y1="297.805" x2="321.3" y2="297.805" stroke="#000" stroke-width="1.1" />
<text x="314.3" y="301.005" font-size="9.9" text-anchor="end" fill="#222" stroke="#222" stroke-width="0.18" textLength="14.850000000000001" lengthAdjust="spacingAndGlyphs" >150</text>
<line x1="339.75" y1="311.0" x2="339.75" y2="323.4" stroke="#A3002B" stroke-width="0.9" />
<line x1="333.85" y1="311.0" x2="345.65" y2="311.0" stroke="#A3002B" stroke-width="1.1" />
<rect x="327.60" y="322.90" width="24.30" height="75.90" fill="#A3002B"/>
<line x1="339.75" y1="398.8" x2="339.75" y2="402.2" stroke="#222" stroke-width="0.9" />
<line x1="375.65" y1="361.6" x2="375.65" y2="371.7" stroke="#2E4B7D" stroke-width="0.9" />
<line x1="369.75" y1="361.6" x2="381.54999999999995" y2="361.6" stroke="#2E4B7D" stroke-width="1.1" />
<rect x="363.70" y="371.20" width="23.90" height="27.60" fill="#2E4B7D"/>
<line x1="375.65" y1="398.8" x2="375.65" y2="402.2" stroke="#222" stroke-width="0.9" />
<line x1="411.85" y1="359.1" x2="411.85" y2="366.0" stroke="#A3002B" stroke-width="0.9" />
<line x1="405.95000000000005" y1="359.1" x2="417.75" y2="359.1" stroke="#A3002B" stroke-width="1.1" />
<rect x="399.90" y="365.50" width="23.90" height="33.30" fill="#A3002B"/>
<line x1="411.85" y1="398.8" x2="411.85" y2="402.2" stroke="#222" stroke-width="0.9" />
<line x1="448.15" y1="362.0" x2="448.15" y2="372.3" stroke="#2E4B7D" stroke-width="0.9" />
<line x1="442.25" y1="362.0" x2="454.04999999999995" y2="362.0" stroke="#2E4B7D" stroke-width="1.1" />
<rect x="436.20" y="371.80" width="23.90" height="27.00" fill="#2E4B7D"/>
<line x1="448.15" y1="398.8" x2="448.15" y2="402.2" stroke="#222" stroke-width="0.9" />
<line x1="333.2" y1="405.8" x2="382.0" y2="405.8" stroke="#444" stroke-width="1.2" />
<line x1="406.2" y1="405.8" x2="454.4" y2="405.8" stroke="#444" stroke-width="1.2" />
<line x1="338.3" y1="290.8" x2="411.8" y2="290.8" stroke="#444" stroke-width="1.2" />
<path d="M369.50,284.85L369.50,287.75M370.76,285.57L368.24,287.03M370.76,287.03L368.24,285.57" stroke="#2a2a2a" stroke-width="0.85" fill="none"/>
<path d="M373.17,284.85L373.17,287.75M374.42,285.57L371.91,287.03M374.42,287.03L371.91,285.57" stroke="#2a2a2a" stroke-width="0.85" fill="none"/>
<path d="M376.83,284.85L376.83,287.75M378.09,285.57L375.58,287.03M378.09,287.03L375.58,285.57" stroke="#2a2a2a" stroke-width="0.85" fill="none"/>
<path d="M380.50,284.85L380.50,287.75M381.76,285.57L379.24,287.03M381.76,287.03L379.24,285.57" stroke="#2a2a2a" stroke-width="0.85" fill="none"/>
<line x1="338.3" y1="301.2" x2="371.2" y2="301.2" stroke="#444" stroke-width="1.2" />
<path d="M349.50,295.25L349.50,298.15M350.76,295.97L348.24,297.43M350.76,297.43L348.24,295.97" stroke="#2a2a2a" stroke-width="0.85" fill="none"/>
<path d="M353.10,295.25L353.10,298.15M354.36,295.97L351.84,297.43M354.36,297.43L351.84,295.97" stroke="#2a2a2a" stroke-width="0.85" fill="none"/>
<path d="M356.70,295.25L356.70,298.15M357.96,295.97L355.44,297.43M357.96,297.43L355.44,295.97" stroke="#2a2a2a" stroke-width="0.85" fill="none"/>
<path d="M360.30,295.25L360.30,298.15M361.56,295.97L359.04,297.43M361.56,297.43L359.04,295.97" stroke="#2a2a2a" stroke-width="0.85" fill="none"/>
<text x="279.4" y="346.7" font-size="10.4" text-anchor="middle" fill="#222" stroke="#222" stroke-width="0.18" textLength="61.5" lengthAdjust="spacingAndGlyphs" transform="rotate(-90 279.4 346.7)" >Number of lung</text>
<text x="293.0" y="346.7" font-size="10.4" text-anchor="middle" fill="#222" stroke="#222" stroke-width="0.18" textLength="43.5" lengthAdjust="spacingAndGlyphs" transform="rotate(-90 293.0 346.7)" >metastases</text>
<text x="357.6" y="417.0" font-size="9.8" text-anchor="middle" fill="#222" stroke="#222" stroke-width="0.18" textLength="29.6" lengthAdjust="spacingAndGlyphs" >Ctrl TC</text>
<text x="430.0" y="417.0" font-size="9.8" text-anchor="middle" fill="#222" stroke="#222" stroke-width="0.18" textLength="56.4" lengthAdjust="spacingAndGlyphs" >Lgals3 KO TC</text>
<rect x="472.3" y="285.6" width="13.1" height="9.8" fill="#A3002B"/>
<rect x="472.3" y="301.2" width="13.1" height="9.6" fill="#2E4B7D"/>
<text x="489.6" y="293.0" font-size="9.0" text-anchor="start" fill="#222" stroke="#222" stroke-width="0.18" textLength="13.3" lengthAdjust="spacingAndGlyphs" font-style="italic" >WT</text>
<text x="489.6" y="308.7" font-size="9.0" text-anchor="start" fill="#222" stroke="#222" stroke-width="0.18" textLength="22.6" lengthAdjust="spacingAndGlyphs" font-style="italic" >Gp6<tspan font-size="5.3" dy="-3.4">-/-</tspan></text>
<text x="121.7" y="453.4" font-size="10.3" text-anchor="start" fill="#111" stroke="#111" stroke-width="0.18" textLength="24.7" lengthAdjust="spacingAndGlyphs" >MC38</text>
<g transform="translate(148,430)" fill="none" stroke-linecap="round" stroke-linejoin="round">
<path d="M10.9,17.3 C8.6,19 7.6,22 8.6,24 C10,26.4 13,27.3 16,27.2 C20,27 25,25.3 30,23.9 C33.5,22.9 37,22 39.8,21.3" stroke="#b4b4b4" stroke-width="2.0"/>
<path d="M10.9,17.3 C11.8,14.5 13,12.5 15,10.8 C17,9.2 20.5,7.3 24,6.9 C27.5,6.6 31,7.3 33.5,8.6 C34.8,9.3 35.8,10 36.4,10.6 C37.2,9.4 38,8.2 38.7,7.9 C39.3,7.2 40.2,7.1 40.7,7.5 C41.3,8 41.6,8.6 41.8,9.2 C42.5,10 43,10.6 43.4,11.2 C45.5,12.2 47.5,13.3 48.9,14.6 C48.4,15.4 47.8,15.8 46.8,16.1 C45,16.6 43,16.9 41,17.3 C39.8,17.8 38.8,18.6 38.7,19.2 L40.1,21" stroke="#555" stroke-width="0.55" fill="#fff"/>
<path d="M11.3,17.7 C12.3,18.6 13.2,19.3 14.2,19.6 L18.4,20.4 C20,20.1 21,19.9 22,19.8 C25,19.5 28,19.4 30.8,19.8 L36,20.8 L39.6,21" stroke="#444" stroke-width="0.55"/>
<ellipse cx="23.7" cy="20.6" rx="3.6" ry="0.9" stroke="#888" stroke-width="0.5"/>
<path d="M17.4,19.8 L19.2,20.9 M31.6,19.9 L33.3,20.9 M38.6,20.6 L40.2,21.3 M24.1,21 L24.6,21.1" stroke="#111" stroke-width="1.0"/>
<circle cx="43.6" cy="13.3" r="0.5" fill="#444" stroke="none"/>
<path d="M39.6,8.6 C40.2,8.4 40.8,8.8 40.9,9.4" stroke="#999" stroke-width="0.4"/>
<path d="M14.4,27.3 L12.9,29.3" stroke="#555" stroke-width="0.5"/>
<path d="M12.7,29.6 L5.4,36.8" stroke="#333" stroke-width="3.0"/>
<path d="M12.3,30.0 L8.0,34.3" stroke="#DB8474" stroke-width="2.1"/>
<path d="M7.8,34.5 L5.8,36.4" stroke="#fff" stroke-width="2.1"/>
<path d="M2.8,36.2 L5.6,39.3" stroke="#222" stroke-width="0.9"/>
<path d="M4.2,37.8 L5.4,36.7" stroke="#333" stroke-width="0.6"/>
</g>
<text x="8.8" y="480.8" font-size="12.6" text-anchor="start" fill="#000" stroke="#000" stroke-width="0.45" textLength="7.3" lengthAdjust="spacingAndGlyphs" font-weight="bold" >E</text>
<line x1="59.5" y1="488.5" x2="59.5" y2="593.1" stroke="#000" stroke-width="1.4" />
<line x1="58.8" y1="592.5" x2="258.6" y2="592.5" stroke="#000" stroke-width="1.4" />
<line x1="55.9" y1="592.5" x2="59.5" y2="592.5" stroke="#000" stroke-width="1.1" />
<text x="52.5" y="595.7" font-size="9.9" text-anchor="end" fill="#222" stroke="#222" stroke-width="0.18" textLength="4.95" lengthAdjust="spacingAndGlyphs" >0</text>
<line x1="55.9" y1="558.75" x2="59.5" y2="558.75" stroke="#000" stroke-width="1.1" />
<text x="52.5" y="561.95" font-size="9.9" text-anchor="end" fill="#222" stroke="#222" stroke-width="0.18" textLength="9.9" lengthAdjust="spacingAndGlyphs" >50</text>
<line x1="55.9" y1="525.0" x2="59.5" y2="525.0" stroke="#000" stroke-width="1.1" />
<text x="52.5" y="528.2" font-size="9.9" text-anchor="end" fill="#222" stroke="#222" stroke-width="0.18" textLength="14.850000000000001" lengthAdjust="spacingAndGlyphs" >100</text>
<line x1="55.9" y1="491.25" x2="59.5" y2="491.25" stroke="#000" stroke-width="1.1" />
<text x="52.5" y="494.45" font-size="9.9" text-anchor="end" fill="#222" stroke="#222" stroke-width="0.18" textLength="14.850000000000001" lengthAdjust="spacingAndGlyphs" >150</text>
<line x1="83.05000000000001" y1="518.5" x2="83.05000000000001" y2="531.7" stroke="#A3002B" stroke-width="0.9" />
<line x1="75.35000000000001" y1="518.5" x2="90.75000000000001" y2="518.5" stroke="#A3002B" stroke-width="1.1" />
<rect x="67.20" y="531.20" width="31.70" height="61.30" fill="#A3002B"/>
<line x1="83.05000000000001" y1="592.5" x2="83.05000000000001" y2="595.9" stroke="#222" stroke-width="0.9" />
<line x1="133.3" y1="549.0" x2="133.3" y2="564.2" stroke="#2E4B7D" stroke-width="0.9" />
<line x1="125.60000000000001" y1="549.0" x2="141.0" y2="549.0" stroke="#2E4B7D" stroke-width="1.1" />
<rect x="117.70" y="563.70" width="31.20" height="28.80" fill="#2E4B7D"/>
<line x1="133.3" y1="592.5" x2="133.3" y2="595.9" stroke="#222" stroke-width="0.9" />
<line x1="183.95" y1="533.1" x2="183.95" y2="537.4" stroke="#6BA543" stroke-width="0.9" />
<line x1="176.25" y1="533.1" x2="191.64999999999998" y2="533.1" stroke="#6BA543" stroke-width="1.1" />
<rect x="168.10" y="536.90" width="31.70" height="55.60" fill="#6BA543"/>
<line x1="183.95" y1="592.5" x2="183.95" y2="595.9" stroke="#222" stroke-width="0.9" />
<line x1="234.15" y1="558.0" x2="234.15" y2="565.2" stroke="#2E4B7D" stroke-width="0.9" />
<line x1="226.45000000000002" y1="558.0" x2="241.85" y2="558.0" stroke="#2E4B7D" stroke-width="1.1" />
<rect x="218.30" y="564.70" width="31.70" height="27.80" fill="url(#hatch)"/>
<line x1="234.15" y1="592.5" x2="234.15" y2="595.9" stroke="#222" stroke-width="0.9" />
<line x1="163" y1="613.6" x2="260.4" y2="613.6" stroke="#444" stroke-width="1.2" />
<line x1="75" y1="491.1" x2="240.3" y2="491.1" stroke="#444" stroke-width="1.2" />
<path d="M153.50,485.15L153.50,488.05M154.76,485.88L152.24,487.33M154.76,487.33L152.24,485.88" stroke="#2a2a2a" stroke-width="0.85" fill="none"/>
<path d="M157.00,485.15L157.00,488.05M158.26,485.88L155.74,487.33M158.26,487.33L155.74,485.88" stroke="#2a2a2a" stroke-width="0.85" fill="none"/>
<path d="M160.50,485.15L160.50,488.05M161.76,485.88L159.24,487.33M161.76,487.33L159.24,485.88" stroke="#2a2a2a" stroke-width="0.85" fill="none"/>
<line x1="75" y1="509.9" x2="139.9" y2="509.9" stroke="#444" stroke-width="1.2" />
<path d="M103.80,503.95L103.80,506.85M105.06,504.67L102.54,506.12M105.06,506.12L102.54,504.67" stroke="#2a2a2a" stroke-width="0.85" fill="none"/>
<path d="M107.40,503.95L107.40,506.85M108.66,504.67L106.14,506.12M108.66,506.12L106.14,504.67" stroke="#2a2a2a" stroke-width="0.85" fill="none"/>
<path d="M111.00,503.95L111.00,506.85M112.26,504.67L109.74,506.12M112.26,506.12L109.74,504.67" stroke="#2a2a2a" stroke-width="0.85" fill="none"/>
<text x="17.3" y="540.3" font-size="10.4" text-anchor="middle" fill="#222" stroke="#222" stroke-width="0.18" textLength="61.5" lengthAdjust="spacingAndGlyphs" transform="rotate(-90 17.3 540.3)" >Number of lung</text>
<text x="30.9" y="540.3" font-size="10.4" text-anchor="middle" fill="#222" stroke="#222" stroke-width="0.18" textLength="43.5" lengthAdjust="spacingAndGlyphs" transform="rotate(-90 30.9 540.3)" >metastases</text>
<text x="75.6" y="606.8" font-size="9.7" text-anchor="start" fill="#222" stroke="#222" stroke-width="0.18" textLength="15.6" lengthAdjust="spacingAndGlyphs" font-style="italic" >WT</text>
<text x="121.3" y="606.8" font-size="9.6" text-anchor="start" fill="#222" stroke="#222" stroke-width="0.18" textLength="24.1" lengthAdjust="spacingAndGlyphs" font-style="italic" >Gp6<tspan font-size="5.5" dy="-3.4">-/-</tspan></text>
<text x="167.8" y="606.8" font-size="9.6" text-anchor="start" fill="#222" stroke="#222" stroke-width="0.18" textLength="32.4" lengthAdjust="spacingAndGlyphs" font-style="italic" >Lgals3<tspan font-size="5.5" dy="-3.4">-/-</tspan></text>
<text x="205.8" y="606.8" font-size="9.6" text-anchor="start" fill="#222" stroke="#222" stroke-width="0.18" textLength="55" lengthAdjust="spacingAndGlyphs" font-style="italic" >Gp6<tspan font-size="5.5" dy="-3.4">-/-</tspan><tspan dy="3.4">Lgals3</tspan><tspan font-size="5.5" dy="-3.4">-/-</tspan></text>
<text x="179.6" y="624.4" font-size="9.6" text-anchor="start" fill="#222" stroke="#222" stroke-width="0.18" textLength="63.8" lengthAdjust="spacingAndGlyphs" >Host Lgals3 KO</text>
<rect x="0.5" y="0.5" width="519" height="634" fill="none" stroke="#000" stroke-width="1"/>
<rect x="1.5" y="1.5" width="517" height="632" fill="none" stroke="#7a7a7a" stroke-width="1"/>
<rect x="2.5" y="2.5" width="515" height="630" fill="none" stroke="#e4e4e4" stroke-width="1"/>
</svg>
</body></html>
